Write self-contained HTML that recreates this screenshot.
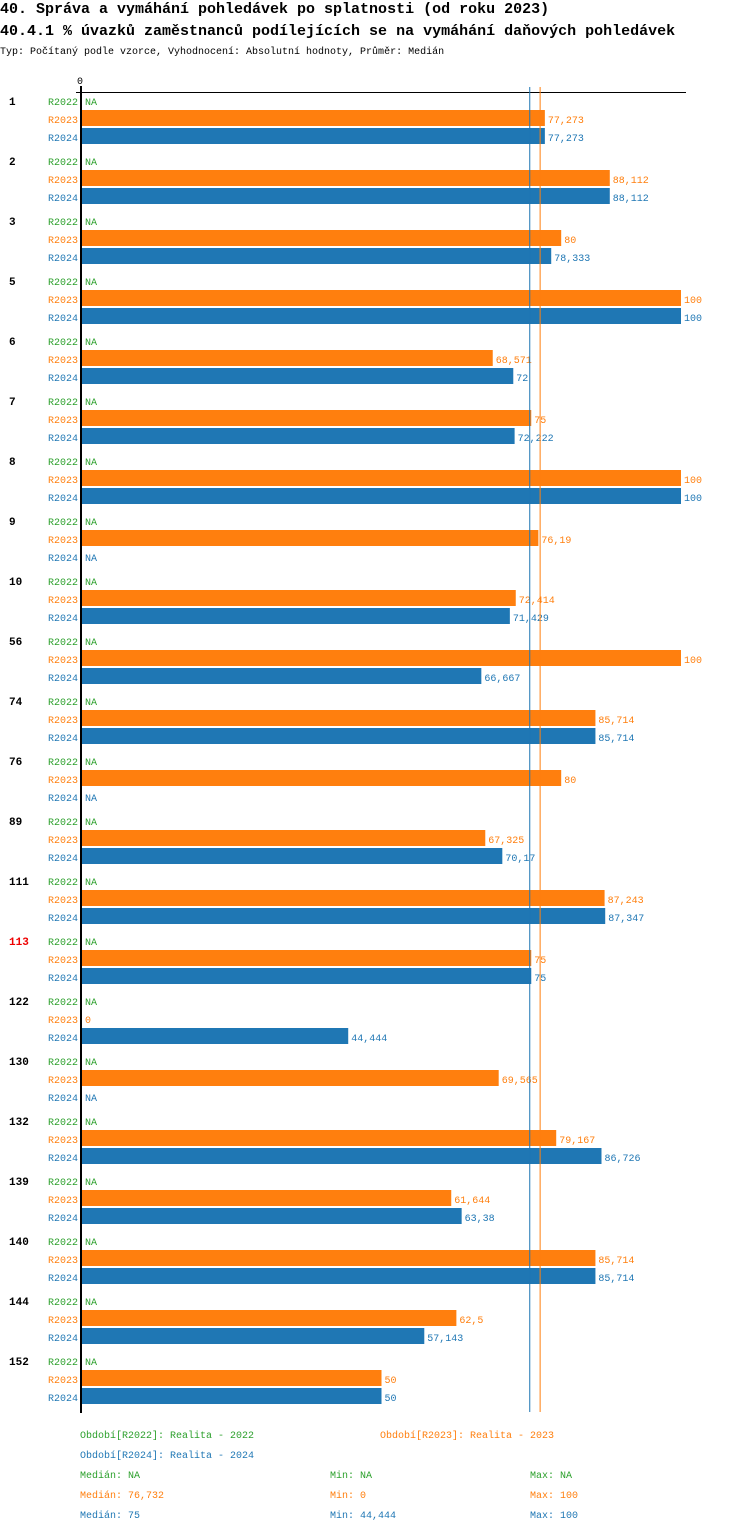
<!DOCTYPE html>
<html><head><meta charset="utf-8"><style>
body{margin:0;background:#fff;}
svg{display:block;font-family:"Liberation Mono",monospace;}
</style></head><body>
<svg width="750" height="1532" id="c">
<text x="0" y="13" font-size="15" font-weight="bold">40. Správa a vymáhání pohledávek po splatnosti (od roku 2023)</text>
<text x="0" y="35" font-size="15" font-weight="bold">40.4.1 % úvazků zaměstnanců podílejících se na vymáhání daňových pohledávek</text>
<text x="0" y="54" font-size="10">Typ: Počítaný podle vzorce, Vyhodnocení: Absolutní hodnoty, Průměr: Medián</text>
<text x="80" y="84" font-size="10" text-anchor="middle">0</text>
<line x1="76" y1="92.5" x2="686" y2="92.5" stroke="#000"/>
<g id="bars"></g>
<line x1="81" y1="86" x2="81" y2="1413" stroke="#000" stroke-width="2"/>
<g font-size="10">
<text x="80" y="1438" fill="#2ca02c">Období[R2022]: Realita - 2022</text>
<text x="380" y="1438" fill="#ff7f0e">Období[R2023]: Realita - 2023</text>
<text x="80" y="1458" fill="#1f77b4">Období[R2024]: Realita - 2024</text>
<text x="80" y="1478" fill="#2ca02c">Medián: NA</text>
<text x="330" y="1478" fill="#2ca02c">Min: NA</text>
<text x="530" y="1478" fill="#2ca02c">Max: NA</text>
<text x="80" y="1498" fill="#ff7f0e">Medián: 76,732</text>
<text x="330" y="1498" fill="#ff7f0e">Min: 0</text>
<text x="530" y="1498" fill="#ff7f0e">Max: 100</text>
<text x="80" y="1518" fill="#1f77b4">Medián: 75</text>
<text x="330" y="1518" fill="#1f77b4">Min: 44,444</text>
<text x="530" y="1518" fill="#1f77b4">Max: 100</text>
</g>
</svg>
<script>
const categories=["1","2","3","5","6","7","8","9","10","56","74","76","89","111","113","122","130","132","139","140","144","152"];
const highlighted=["113"];
const r2022=[null,null,null,null,null,null,null,null,null,null,null,null,null,null,null,null,null,null,null,null,null,null];
const r2023=[77.273,88.112,80,100,68.571,75,100,76.19,72.414,100,85.714,80,67.325,87.243,75,0,69.565,79.167,61.644,85.714,62.5,50];
const r2024=[77.273,88.112,78.333,100,72,72.222,100,null,71.429,66.667,85.714,null,70.17,87.347,75,44.444,null,86.726,63.38,85.714,57.143,50];
const medians=[76.732,75];
const NS="http://www.w3.org/2000/svg";
const g=document.getElementById('bars');
const x=v=>82+v*5.99;
const yg=i=>101+60*i;
const colors=["#2ca02c","#ff7f0e","#1f77b4"];
const names=["R2022","R2023","R2024"];
const series=[r2022,r2023,r2024];
function mk(tag,attrs,txt){const e=document.createElementNS(NS,tag);for(const k in attrs)e.setAttribute(k,attrs[k]);if(txt!=null)e.textContent=txt;g.appendChild(e);return e;}
const fmt=v=>String(v).replace('.',',');
categories.forEach((c,i)=>{
  const t=mk('text',{x:9,y:yg(i)+4,'font-size':11,'font-weight':'bold',fill:highlighted.includes(c)?'#e00':'#000'},c);
  
  
  series.forEach((s,j)=>{
    const yc=yg(i)+18*j;
    const l=mk('text',{x:78,y:yc+4,'font-size':10,'text-anchor':'end',fill:colors[j]},names[j]);
    
    
    const v=s[i];
    if(v!=null){
      const r=mk('rect',{x:82,y:yc-9,width:Math.max(0,x(v)-82),height:16,fill:colors[j]});
      
      
    }
    const vt=mk('text',{x:(v!=null?x(v):82)+3,y:yc+4,'font-size':10,fill:colors[j]},v==null?'NA':fmt(v));
    
    
  });
});
medians.forEach((m,k)=>{
  const ln=mk('line',{x1:x(m)-1.5,x2:x(m)-1.5,y1:87,y2:1412,stroke:k===0?'#ff7f0e':'#1f77b4','stroke-width':1});
  
  
});
</script>
</body></html>
